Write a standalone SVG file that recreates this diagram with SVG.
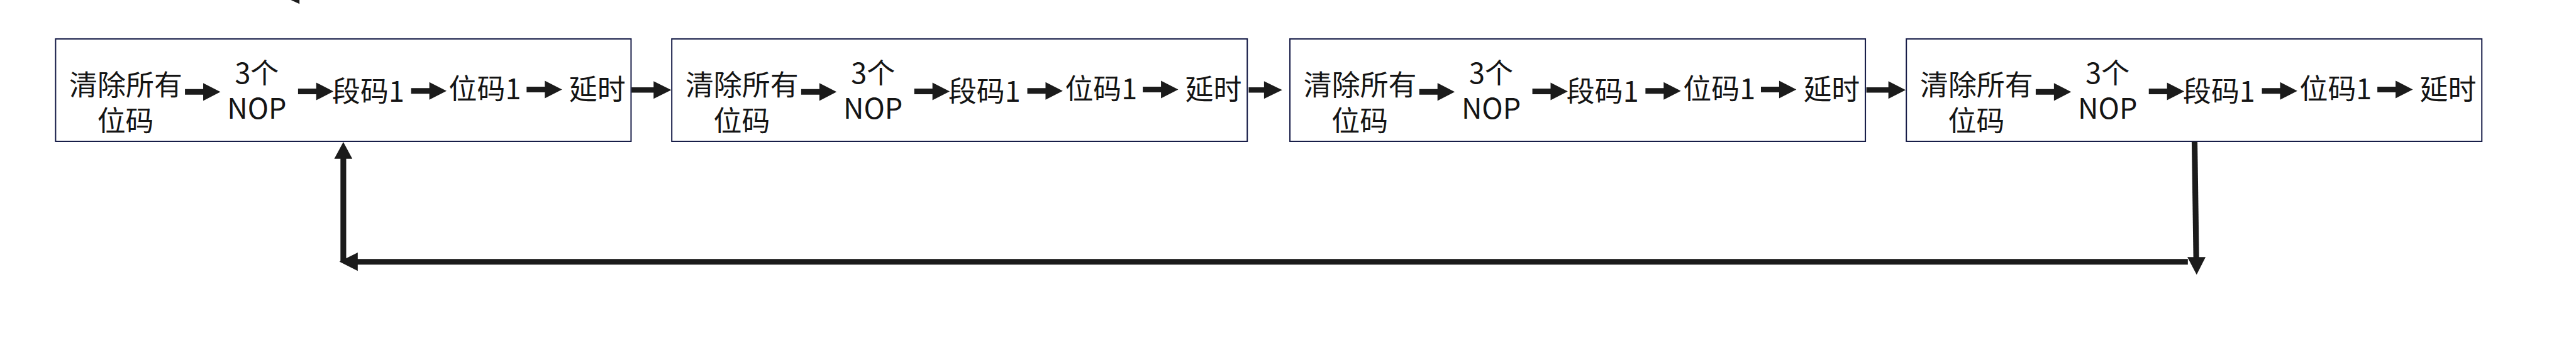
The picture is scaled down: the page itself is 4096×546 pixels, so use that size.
<svg xmlns="http://www.w3.org/2000/svg" width="4096" height="546" viewBox="0 0 4096 546">
<style>
.box{fill:#fff;stroke:#141a46;stroke-width:2.6}
.t{font-family:"Noto Sans CJK SC","Noto Sans",sans-serif;font-size:59px;fill:#141414;text-anchor:middle}
.ar{fill:#1b1b1b}
.ln{stroke:#1b1b1b;stroke-width:12;fill:none}
</style>
<defs>
<path id="a74" d="M0,-6 H38 V-18.5 L74,0 L38,18.5 V6 H0 Z"/>
<g id="content">
<rect class="box" x="0" y="81.3" width="1201" height="214"/>
<text class="t" x="146.5" y="199">清除所有</text>
<text class="t" x="146" y="274">位码</text>
<text class="t" x="420" y="174">3个</text>
<text class="t" x="420" y="248">NOP</text>
<text class="t" x="652.5" y="212">段码1</text>
<text class="t" x="896" y="208">位码1</text>
<text class="t" x="1130.5" y="209">延时</text>
<use href="#a74" class="ar" x="270" y="192"/>
<use href="#a74" class="ar" x="506" y="191"/>
<use href="#a74" class="ar" x="742" y="190"/>
<use href="#a74" class="ar" x="983" y="187"/>
</g>
</defs>
<rect width="4096" height="546" fill="#fff"/>
<g transform="scale(0.7619)">
<polygon class="ar" points="607,0 625,0 625,8.3"/>
<g id="node1" transform="translate(116,0)"><use href="#content"/></g>
<g id="node2" transform="translate(1402,0)"><use href="#content"/></g>
<g id="node3" transform="translate(2692,0)"><use href="#content"/></g>
<g id="node4" transform="translate(3978.5,0)"><use href="#content"/></g>
<g id="connectors">
<path class="ar" d="M1318,182.5 H1364 V169.5 L1401,188 L1364,206.5 V193.5 H1318 Z"/>
<path class="ar" d="M2606,182.5 H2638 V169.5 L2676,188 L2638,206.5 V193.5 H2606 Z"/>
<path class="ar" d="M3895,182.5 H3941 V169.5 L3977,188 L3941,206.5 V193.5 H3895 Z"/>
<line class="ln" x1="4580" y1="296" x2="4583.5" y2="540"/>
<polygon class="ar" points="4565,537.3 4603,537.3 4584.3,574"/>
<line class="ln" x1="4566" y1="547" x2="745" y2="547"/>
<polygon class="ar" points="746.6,527.7 746.6,566 708.3,546.7"/>
<line class="ln" x1="716.5" y1="546" x2="716.5" y2="330"/>
<polygon class="ar" points="697.6,331.7 735.3,331.7 716.5,296.7"/>
</g>
</g>
</svg>
